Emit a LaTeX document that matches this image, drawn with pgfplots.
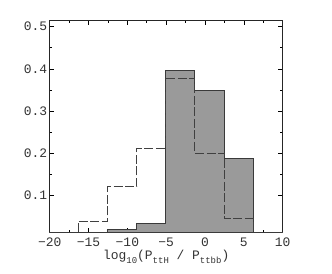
\documentclass[border=0pt]{standalone}
\usepackage{pgfplots}
\pgfplotsset{compat=1.18}
\usepackage{fontspec}
\setmainfont{Liberation Mono}
\definecolor{barfill}{HTML}{9A9A9A}
\definecolor{edge}{HTML}{3A3A3A}
\definecolor{dash}{HTML}{404040}
\newcommand{\sub}[1]{\raisebox{-3.5bp}{\fontsize{9}{9}\selectfont #1}}

\begin{document}
\begin{tikzpicture}
\path[use as bounding box] (-49.7bp,-41.7bp) rectangle (282.3bp,232.3bp);
\begin{axis}[
    at={(0,0)}, anchor=south west,
    scale only axis,
    width=233bp, height=211.6bp,
    xmin=-20, xmax=10,
    ymin=0.0135, ymax=0.514,
    xtick={-20,-15,-10,-5,0,5,10},
    xticklabels={−20,−15,−10,−5,0,5,10},
    ytick={0.1,0.2,0.3,0.4,0.5},
    yticklabels={0.1,0.2,0.3,0.4,0.5},
    minor x tick num=1,
    minor y tick num=1,
    tick align=inside,
    major tick length=4.5bp,
    minor tick length=2.5bp,
    tick style={black, line width=0.7bp},
    axis line style={line width=0.9bp, black!85},
    ticklabel style={font=\fontsize{13}{15}\selectfont, text=black!80},
    xticklabel style={yshift=-2bp},
    yticklabel style={xshift=1bp},
    xlabel={log\sub{10}(P\sub{ttH} / P\sub{ttbb})},
    xlabel style={font=\fontsize{13}{15}\selectfont, text=black!80, yshift=3bp},
]
\addplot[const plot, fill=barfill, draw=edge, line width=0.9bp] coordinates {
    (-20,0) (-12.55,0.020) (-8.8,0.035) (-5.05,0.396) (-1.3,0.349) (2.45,0.187) (6.2,0) (10,0)
} \closedcycle;
\addplot[const plot, draw=dash, line width=0.9bp, dash pattern=on 9bp off 2.5bp] coordinates {
    (-20,0) (-16.3,0.040) (-12.55,0.121) (-8.8,0.211) (-5.05,0.377) (-1.3,0.201) (2.45,0.046) (6.2,0) (10,0)
};
\end{axis}
\end{tikzpicture}
\end{document}
